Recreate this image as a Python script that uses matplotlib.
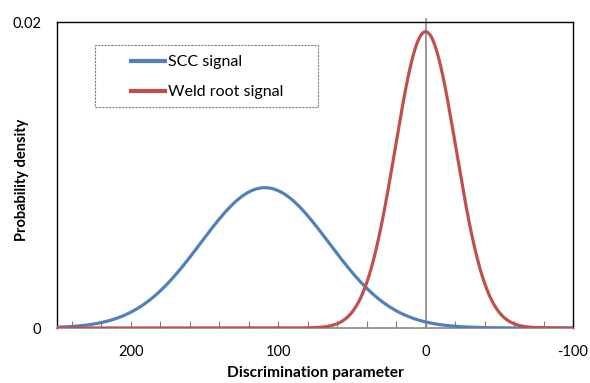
import numpy as np
import matplotlib
matplotlib.use("Agg")
import matplotlib.pyplot as plt
from matplotlib.patches import Rectangle
from matplotlib.ticker import MultipleLocator

# normal densities, parameters
series_names = ["SCC signal", "Weld root signal"]
series_means = [109.0, 0.0]
series_sds = [43.5, 20.6]
series_colors = ["#4F81BD", "#C0504D"]

x_ticks = [200, 100, 0, -100]
y_ticks = [0, 0.02]
y_ticklabels = ["0", "0.02"]

plt.rcParams["font.family"] = ["Lato", "DejaVu Sans"]
plt.rcParams["axes.unicode_minus"] = False

W, H = 590, 383
fig = plt.figure(figsize=(W / 100, H / 100), dpi=100)
ax = fig.add_axes([57 / W, 1 - 328 / H, 516 / W, 306 / H])

x = np.linspace(250, -100, 1401)
for name, mu, sd, c in zip(series_names, series_means, series_sds, series_colors):
    y = np.exp(-0.5 * ((x - mu) / sd) ** 2) / (sd * np.sqrt(2 * np.pi))
    ax.plot(x, y, color=c, lw=2.3, label=name, solid_capstyle="butt", zorder=3)

# vertical axis crossing at 0
ax.plot([0, 0], [0, 0.0202], color="#808080", lw=1.1, zorder=1, clip_on=False)

ax.set_xlim(250, -100)
ax.set_ylim(0, 0.02)
ax.set_xticks(x_ticks)
ax.xaxis.set_minor_locator(MultipleLocator(20))
ax.set_yticks(y_ticks)
ax.set_yticklabels(y_ticklabels)

ax.tick_params(axis="x", which="both", direction="in", color="#808080",
               length=5, width=0.8, labelsize=10.5, pad=12)
ax.tick_params(axis="y", length=0, labelsize=10.5, pad=11.5)

for s in ["left", "top", "right"]:
    ax.spines[s].set_color("black")
    ax.spines[s].set_linewidth(1.0)
ax.spines["bottom"].set_color("#808080")
ax.spines["bottom"].set_linewidth(1.1)

ax.set_xlabel("Discrimination parameter", fontsize=11.2, fontweight="bold", labelpad=5)
ax.set_ylabel("Probability density", fontsize=10.5, fontweight="bold")
ax.yaxis.set_label_coords((29 - 57) / 516, (328 - 179.5) / 306)

# legend box (dashed frame, wider than its content)
ax.add_patch(Rectangle((95 / W, 1 - 107 / H), 223 / W, 62 / H, transform=fig.transFigure,
                       fill=False, edgecolor="#808080", lw=0.8,
                       linestyle=(0, (2, 1)), zorder=4, clip_on=False))
leg = ax.legend(loc="upper left", bbox_to_anchor=((129 - 57) / 516, (328 - 55) / 306),
                frameon=False, fontsize=11.5, handlelength=2.35,
                handletextpad=0.1, labelspacing=1.0, borderpad=0,
                borderaxespad=0)
for line in leg.get_lines():
    line.set_linewidth(3.0)

fig.savefig("out.png", dpi=100, facecolor="white")
